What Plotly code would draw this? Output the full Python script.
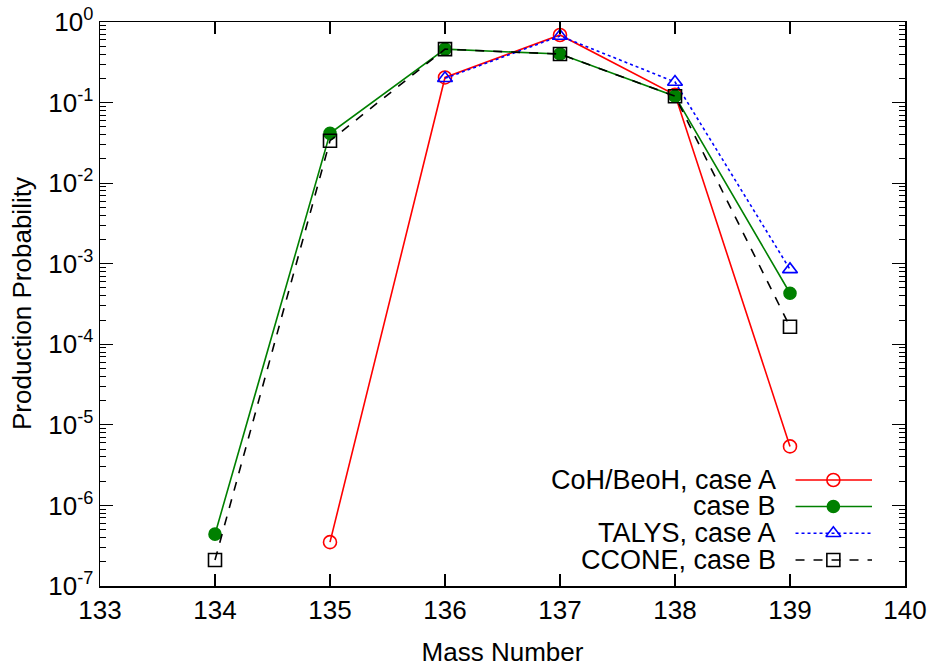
import plotly.graph_objects as go

# ---- data ----
mass_all = [134, 135, 136, 137, 138, 139]
coh_a_mass = [135, 136, 137, 138, 139]
coh_a_val = [3.5e-7, 0.205, 0.69, 0.125, 5.4e-6]
coh_b_val = [4.4e-7, 0.0415, 0.46, 0.40, 0.12, 4.3e-4]
talys_a_mass = [136, 137, 138, 139]
talys_a_val = [0.20, 0.67, 0.18, 8.5e-4]
ccone_b_val = [2.1e-7, 0.0336, 0.46, 0.40, 0.12, 1.65e-4]

x_ticks = [133, 134, 135, 136, 137, 138, 139, 140]
y_tickvals = [1e-7, 1e-6, 1e-5, 1e-4, 1e-3, 1e-2, 1e-1, 1]
y_ticktext = ["10<sup>-7</sup>", "10<sup>-6</sup>", "10<sup>-5</sup>", "10<sup>-4</sup>",
              "10<sup>-3</sup>", "10<sup>-2</sup>", "10<sup>-1</sup>", "10<sup>0</sup>"]

legend_names = ["CoH/BeoH, case A", "case B", "TALYS, case A", "CCONE, case B"]

FONT = "Liberation Sans, Arial, Helvetica, sans-serif"
FS = 26
LFS = 27

styles = [
    dict(color="red", dash="solid", symbol="circle-open", msize=13),
    dict(color="green", dash="solid", symbol="circle", msize=12),
    dict(color="blue", dash="dot", symbol="triangle-up-open", msize=13),
    dict(color="black", dash="dash", symbol="square-open", msize=13),
]

series = [
    (coh_a_mass, coh_a_val),
    (mass_all, coh_b_val),
    (talys_a_mass, talys_a_val),
    (mass_all, ccone_b_val),
]

fig = go.Figure()
for (xs, ys), st, name in zip(series, styles, legend_names):
    fig.add_trace(go.Scatter(
        x=xs, y=ys, mode="lines+markers", name=name, showlegend=False,
        line=dict(color=st["color"], width=1.6, dash=st["dash"]),
        marker=dict(symbol=st["symbol"], size=st["msize"], color=st["color"],
                    line=dict(color=st["color"], width=1.6)),
    ))

# ---- custom gnuplot-style legend (text left, sample right) on an overlay axis ----
leg_rows_y = [0.188, 0.141, 0.0934, 0.0461]
leg_x0, leg_x1, leg_xm, leg_text_x = 0.864, 0.959, 0.911, 0.842
for st, name, yy in zip(styles, legend_names, leg_rows_y):
    fig.add_trace(go.Scatter(
        x=[leg_x0, leg_xm, leg_x1], y=[yy, yy, yy], xaxis="x2", yaxis="y2",
        mode="lines", showlegend=False, hoverinfo="skip",
        line=dict(color=st["color"], width=1.6, dash=st["dash"]),
    ))
    fig.add_trace(go.Scatter(
        x=[leg_xm], y=[yy], xaxis="x2", yaxis="y2",
        mode="markers", showlegend=False, hoverinfo="skip",
        marker=dict(symbol=st["symbol"], size=st["msize"], color=st["color"],
                    line=dict(color=st["color"], width=1.6)),
    ))
    fig.add_annotation(x=leg_text_x, y=yy, xref="x2", yref="y2", text=name,
                       showarrow=False, xanchor="right", yanchor="middle",
                       font=dict(family=FONT, size=LFS, color="black"))

# y-axis title placed like gnuplot's
fig.add_annotation(x=0, y=0.5, xref="paper", yref="paper", xshift=-78,
                   text="Production Probability", textangle=-90, showarrow=False,
                   xanchor="center", yanchor="middle",
                   font=dict(family=FONT, size=FS, color="black"))

axis_common = dict(
    showline=True, linecolor="black", linewidth=1.5, mirror="ticks",
    ticks="inside", tickcolor="black", tickwidth=1.2,
    showgrid=False, zeroline=False, automargin=False, ticklabeloverflow="allow",
    tickfont=dict(family=FONT, size=FS, color="black"),
)

fig.update_layout(
    width=933, height=668,
    margin=dict(l=100, r=28, t=22, b=82),
    paper_bgcolor="white", plot_bgcolor="white",
    xaxis=dict(
        range=[133, 140], tickvals=x_ticks, ticklen=12,
        title=dict(text="Mass Number", font=dict(family=FONT, size=FS, color="black"),
                   standoff=19),
        **axis_common,
    ),
    yaxis=dict(
        type="log", range=[-7, 0], tickvals=y_tickvals, ticktext=y_ticktext, ticklen=13,
        minor=dict(ticks="inside", ticklen=6, tickcolor="black", tickwidth=1, dtick="D1",
                   showgrid=False),
        **axis_common,
    ),
    xaxis2=dict(overlaying="x", range=[0, 1], visible=False, fixedrange=True),
    yaxis2=dict(overlaying="y", range=[0, 1], visible=False, fixedrange=True),
    showlegend=False,
)

# remove the browser's default 8px body margin so the figure fills the window exactly
fig.write_html("out.html",
               config={"displayModeBar": False, "staticPlot": True},
               post_script="document.body.style.margin='0px';document.body.style.overflow='hidden';")
